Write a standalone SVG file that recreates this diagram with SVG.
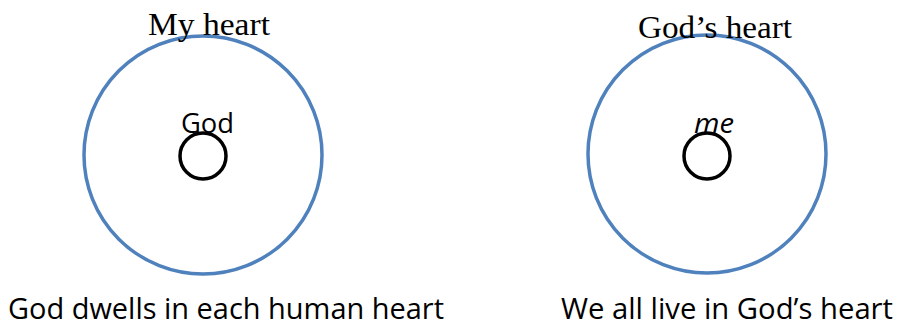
<svg xmlns="http://www.w3.org/2000/svg" width="904" height="329" viewBox="0 0 904 329">
<style>
.big{fill:none;stroke:#4F81BD;stroke-width:3.5}
.small{fill:none;stroke:#000;stroke-width:3.5}
.serif{font-family:"Liberation Serif","DejaVu Serif",serif;font-size:31px;fill:#000}
.sans{font-family:"Open Sans","Liberation Sans",sans-serif;font-size:27px;fill:#000}
.cap{font-family:"Open Sans","Liberation Sans",sans-serif;font-size:30px;fill:#000}
</style>
<rect width="904" height="329" fill="#fff"/>
<g id="my-heart">
<circle class="big" cx="203" cy="155" r="119"/>
<text class="serif" x="148" y="35" textLength="122" lengthAdjust="spacingAndGlyphs">My heart</text>
</g>
<g id="god-inner">
<circle class="small" cx="203" cy="156" r="23"/>
<text class="sans" x="181" y="133" textLength="53" lengthAdjust="spacingAndGlyphs">God</text>
</g>
<g id="gods-heart">
<circle class="big" cx="707" cy="154" r="119"/>
<text class="serif" x="638" y="38" textLength="154" lengthAdjust="spacingAndGlyphs">God’s heart</text>
</g>
<g id="me-inner">
<circle class="small" cx="707" cy="156" r="23"/>
<text class="sans" x="694" y="133" textLength="40" lengthAdjust="spacingAndGlyphs" font-style="italic">me</text>
</g>
<g id="connectors"></g>
<text class="cap" x="8" y="319" textLength="436" lengthAdjust="spacingAndGlyphs">God dwells in each human heart</text>
<text class="cap" x="893" y="319" text-anchor="end" textLength="332" lengthAdjust="spacingAndGlyphs">We all live in God’s heart</text>
</svg>
